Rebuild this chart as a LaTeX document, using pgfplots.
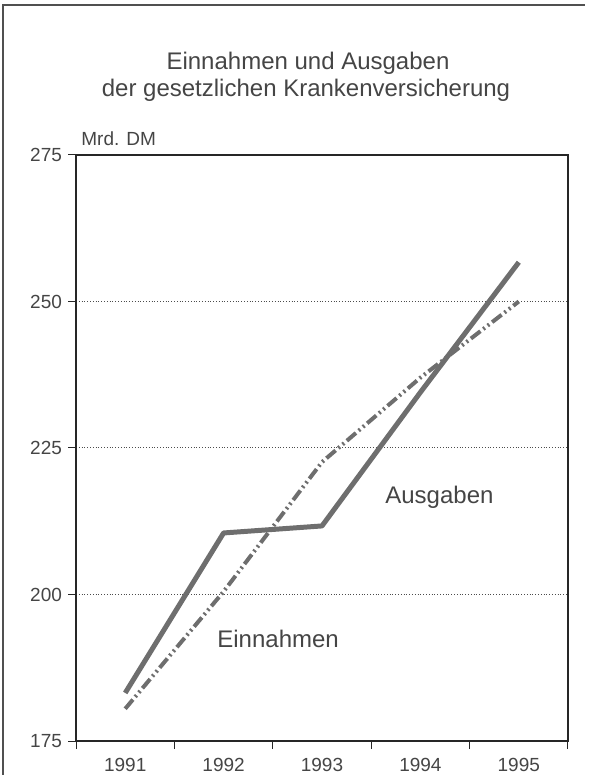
\documentclass[border=0pt]{standalone}
\usepackage{pgfplots}
\pgfplotsset{compat=1.18}
\usepackage{fontspec}
\setmainfont{Liberation Sans}
\definecolor{txt}{HTML}{454545}
\definecolor{lin}{HTML}{6E6E6E}
\definecolor{frm}{HTML}{505050}
\begin{document}
\begin{tikzpicture}
\path[use as bounding box] (0,0) rectangle (302pt,387.5pt);
\draw[frm, line width=0.7pt] (1.5pt,0pt) -- (1.5pt,385pt) -- (292.5pt,385pt);
\node[anchor=base, text=txt, font=\fontsize{12}{14}\selectfont] at (154pt,352.5pt) {Einnahmen und Ausgaben};
\node[anchor=base, text=txt, font=\fontsize{12}{14}\selectfont] at (153pt,339pt) {der gesetzlichen Krankenversicherung};
\node[anchor=base west, inner sep=0pt, text=txt, font=\fontsize{9.5}{11}\selectfont] at (40.5pt,314.5pt) {Mrd. DM};
\begin{axis}[
  at={(38pt,17pt)}, anchor=south west,
  scale only axis, width=246pt, height=293pt,
  xmin=0.5, xmax=5.5, ymin=175, ymax=275,
  xtick={0.5,1.5,2.5,3.5,4.5,5.5},
  xticklabels={1991,1992,1993,1994,1995},
  x tick label as interval,
  ytick={175,200,225,250,275},
  xtick pos=bottom, ytick pos=left,
  tick align=outside,
  major tick length=4pt,
  axis line style={black!85, line width=0.6pt},
  every tick/.style={black!85, line width=0.5pt},
  ymajorgrids,
  grid style={black!70, densely dotted, line width=0.5pt},
  tick label style={text=txt, font=\fontsize{9.5}{10}\selectfont},
  /pgf/number format/assume math mode=true,
  /pgf/number format/1000 sep={},
  yticklabel style={xshift=0.5pt},
  xticklabel style={yshift=-1pt},
  clip=false,
]
\addplot[lin, line width=2.5pt, line join=round] coordinates {
  (1,183.2) (2,210.5) (3,211.7) (4,234.5) (5,256.7)
};
\addplot[lin, line width=2pt, dash pattern=on 6pt off 1.8pt on 1pt off 1.8pt on 1pt off 1.8pt] coordinates {
  (1,180.5) (2,200.5) (3,222.6) (4,237.0) (5,250.0)
};
\node[anchor=base west, inner sep=0pt, text=txt, font=\fontsize{12}{14}\selectfont] at (axis cs:3.64,215.6) {Ausgaben};
\node[anchor=base west, inner sep=0pt, text=txt, font=\fontsize{12}{14}\selectfont] at (axis cs:1.933,191.0) {Einnahmen};
\end{axis}
\end{tikzpicture}
\end{document}
